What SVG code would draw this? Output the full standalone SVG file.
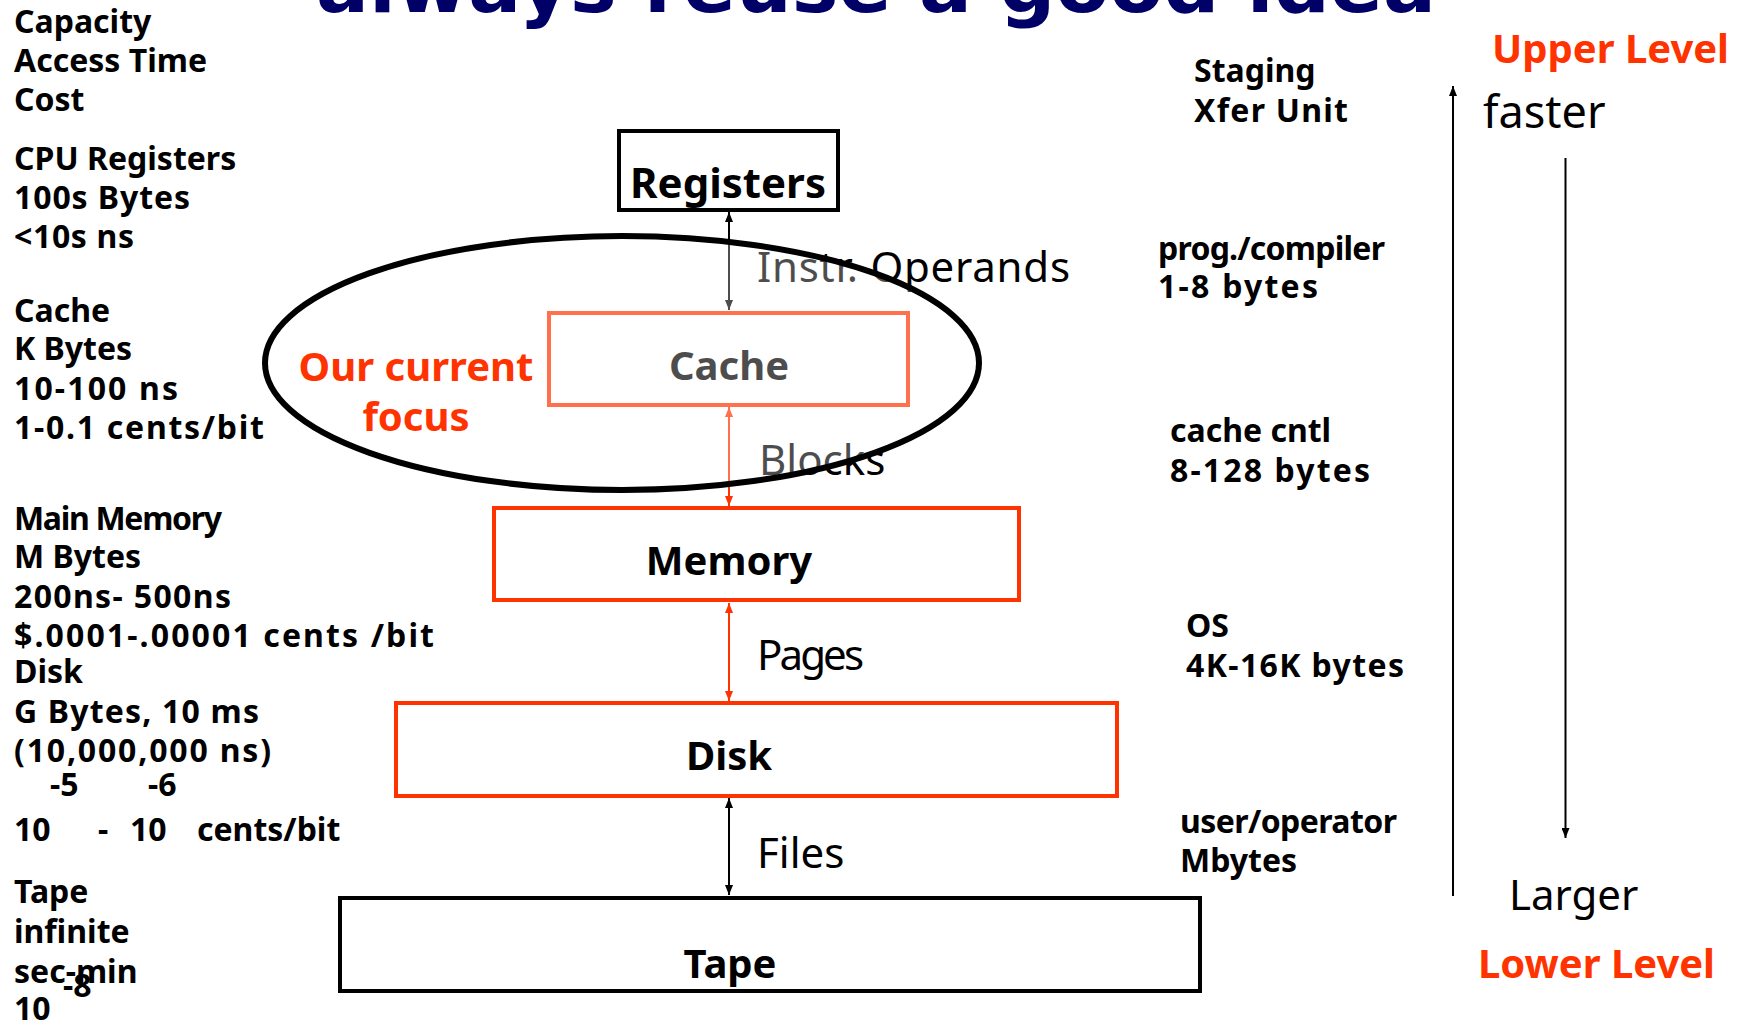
<svg xmlns="http://www.w3.org/2000/svg" width="1746" height="1023" viewBox="0 0 1746 1023">
  <defs>
    <marker id="headK" viewBox="0 0 10 8" refX="10" refY="4" markerUnits="userSpaceOnUse" markerWidth="11" markerHeight="8" orient="auto-start-reverse">
      <path d="M0,0 L10,4 L0,8 z" fill="#000"/>
    </marker>
    <marker id="headR" viewBox="0 0 10 8" refX="10" refY="4" markerUnits="userSpaceOnUse" markerWidth="11" markerHeight="8" orient="auto-start-reverse">
      <path d="M0,0 L10,4 L0,8 z" fill="#FF3300"/>
    </marker>
    <style>
      text { font-family: "Noto Sans", "DejaVu Sans", sans-serif; }
      .info { font-size: 32px; font-weight: bold; fill: #000; }
      .node { font-size: 40px; font-weight: bold; fill: #000; text-anchor: middle; }
      .lbl { font-size: 42px; fill: #000; }
      .hot { font-weight: bold; fill: #FF3300; }
      .box { fill: #fff; stroke-width: 4; }
      .blk { stroke: #000; }
      .red { stroke: #FF3300; }
      .link { stroke-width: 2; fill: none; }
    </style>
  </defs>

  <rect width="1746" height="1023" fill="#fff"/>

  <!-- slide title, mostly above the top edge -->
  <text x="316" y="12" textLength="1120" lengthAdjust="spacingAndGlyphs" style="font-family:'DejaVu Sans',Verdana,sans-serif;font-size:76px;font-weight:bold;fill:#000066">always reuse a good idea</text>

  <!-- level characteristics, left column -->
  <g id="level-info">
    <text class="info" x="14" y="33">Capacity</text>
    <text class="info" x="14" y="72">Access Time</text>
    <text class="info" x="14" y="111">Cost</text>
    <text class="info" x="14" y="170">CPU Registers</text>
    <text class="info" x="14" y="209" textLength="176">100s Bytes</text>
    <text class="info" x="14" y="248" textLength="120">&lt;10s ns</text>
    <text class="info" x="14" y="322">Cache</text>
    <text class="info" x="14" y="360">K Bytes</text>
    <text class="info" x="14" y="400" textLength="164">10-100 ns</text>
    <text class="info" x="14" y="439" textLength="250">1-0.1 cents/bit</text>
    <text class="info" x="14" y="530" textLength="208">Main Memory</text>
    <text class="info" x="14" y="568">M Bytes</text>
    <text class="info" x="14" y="608" textLength="217">200ns- 500ns</text>
    <text class="info" x="14" y="647" textLength="420">$.0001-.00001 cents /bit</text>
    <text class="info" x="14" y="683">Disk</text>
    <text class="info" x="14" y="723" textLength="245">G Bytes, 10 ms</text>
    <text class="info" x="14" y="762" textLength="257">(10,000,000 ns)</text>
    <text class="info" x="50" y="796">-5</text>
    <text class="info" x="148" y="796">-6</text>
    <text class="info" x="14" y="841">10</text>
    <text class="info" x="98" y="841">-</text>
    <text class="info" x="130" y="841">10</text>
    <text class="info" x="197" y="841">cents/bit</text>
    <text class="info" x="14" y="903">Tape</text>
    <text class="info" x="14" y="943">infinite</text>
    <text class="info" x="14" y="983">sec-min</text>
    <text class="info" x="63" y="997">-8</text>
    <text class="info" x="14" y="1020">10</text>
  </g>

  <!-- staging / transfer unit, right column -->
  <g id="staging-info">
    <text class="info" x="1194" y="82">Staging</text>
    <text class="info" x="1194" y="122" textLength="154">Xfer Unit</text>
    <text class="info" x="1158" y="260" textLength="227">prog./compiler</text>
    <text class="info" x="1158" y="298" textLength="160">1-8 bytes</text>
    <text class="info" x="1170" y="442">cache cntl</text>
    <text class="info" x="1170" y="482" textLength="200">8-128 bytes</text>
    <text class="info" x="1186" y="637">OS</text>
    <text class="info" x="1186" y="677" textLength="218">4K-16K bytes</text>
    <text class="info" x="1180" y="833" textLength="217">user/operator</text>
    <text class="info" x="1180" y="872">Mbytes</text>
  </g>

  <!-- hierarchy levels -->
  <g id="registers">
    <rect class="box blk" x="619" y="131" width="219" height="79"/>
    <text class="node" x="728" y="198" style="font-size:42px">Registers</text>
  </g>
  <g id="cache">
    <rect class="box red" x="549" y="313" width="359" height="92"/>
    <text class="node" x="729" y="380">Cache</text>
  </g>
  <g id="memory">
    <rect class="box red" x="494" y="508" width="525" height="92"/>
    <text class="node" x="729" y="575">Memory</text>
  </g>
  <g id="disk">
    <rect class="box red" x="396" y="703" width="721" height="93"/>
    <text class="node" x="729" y="770">Disk</text>
  </g>
  <g id="tape">
    <rect class="box blk" x="340" y="898" width="860" height="93"/>
    <text class="node" x="730" y="978">Tape</text>
  </g>

  <!-- transfers between levels -->
  <g id="connectors">
    <line class="link" x1="729" y1="212" x2="729" y2="310" stroke="#000" marker-start="url(#headK)" marker-end="url(#headK)"/>
    <line class="link" x1="729" y1="407" x2="729" y2="506" stroke="#FF3300" marker-start="url(#headR)" marker-end="url(#headR)"/>
    <line class="link" x1="729" y1="603" x2="729" y2="701" stroke="#FF3300" marker-start="url(#headR)" marker-end="url(#headR)"/>
    <line class="link" x1="729" y1="798" x2="729" y2="895" stroke="#000" marker-start="url(#headK)" marker-end="url(#headK)"/>
    <text class="lbl" x="757" y="282" textLength="313">Instr. Operands</text>
    <text class="lbl" x="759" y="475">Blocks</text>
    <text class="lbl" x="757" y="670" textLength="107">Pages</text>
    <text class="lbl" x="757" y="868">Files</text>
  </g>

  <!-- speed / size trend -->
  <g id="trend">
    <line class="link" x1="1453" y1="896" x2="1453" y2="86" stroke="#000" marker-end="url(#headK)"/>
    <line class="link" x1="1565.5" y1="158" x2="1565.5" y2="838" stroke="#000" marker-end="url(#headK)"/>
    <text class="info hot" x="1492" y="63" style="font-size:40px">Upper Level</text>
    <text class="lbl" x="1483" y="128" style="font-size:45px">faster</text>
    <text class="lbl" x="1509" y="910">Larger</text>
    <text class="info hot" x="1478" y="978" style="font-size:40px">Lower Level</text>
  </g>

  <!-- highlight ring with a light veil over its contents -->
  <g id="focus">
    <ellipse cx="622" cy="363" rx="357" ry="127" fill="#fff" fill-opacity="0.3" stroke="#000" stroke-width="6"/>
    <text class="hot" x="416" y="381" text-anchor="middle" style="font-size:40px">Our current</text>
    <text class="hot" x="416" y="431" text-anchor="middle" style="font-size:40px">focus</text>
  </g>
</svg>
